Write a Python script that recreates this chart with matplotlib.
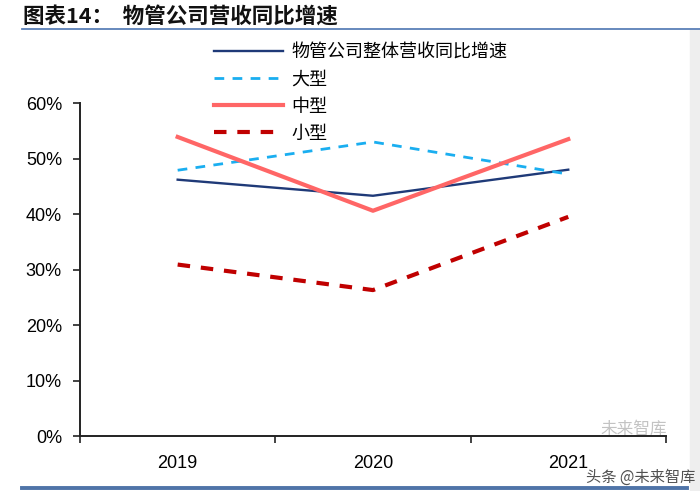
import matplotlib.pyplot as plt
from matplotlib.lines import Line2D
from matplotlib.ticker import FixedLocator, FuncFormatter

plt.rcParams['font.family'] = ['Liberation Sans', 'Noto Sans CJK SC', 'DejaVu Sans']

# data
years = ['2019', '2020', '2021']
overall = [46.2, 43.3, 48.0]
large = [47.9, 53.0, 47.2]
medium = [53.9, 40.6, 53.5]
small = [30.9, 26.3, 39.5]
labels = ['物管公司整体营收同比增速', '大型', '中型', '小型']

C_NAVY = '#1f3a78'
C_SKY = '#1aaef0'
C_SALMON = '#ff6666'
C_DRED = '#c00000'

fig = plt.figure(figsize=(7.0, 4.91), dpi=100)
ax = fig.add_axes([0.1143, 0.112, 0.837, 0.678])

x = range(len(years))
ax.plot(x, overall, color=C_NAVY, lw=1.7, label=labels[0])
ax.plot(x, large, color=C_SKY, lw=2.0, dashes=(3.5, 3.0), label=labels[1])
ax.plot(x, medium, color=C_SALMON, lw=3.0, label=labels[2])
ax.plot(x, small, color=C_DRED, lw=3.0, dashes=(3.0, 2.6), label=labels[3])

ax.set_xlim(-0.5, 2.5)
ax.set_ylim(0, 60)
ax.set_yticks(range(0, 61, 10))
ax.yaxis.set_major_formatter(FuncFormatter(lambda v, p: f'{v:.0f}%'))

# category boundaries carry the tick marks, labels sit in the middle
ax.xaxis.set_major_locator(FixedLocator([-0.5, 0.5, 1.5, 2.5]))
ax.xaxis.set_major_formatter(FuncFormatter(lambda v, p: ''))
ax.xaxis.set_minor_locator(FixedLocator(list(x)))
ax.set_xticklabels(years, minor=True)
ax.tick_params(axis='x', which='major', direction='out', length=5, width=1.2, color='#222222')
ax.tick_params(axis='x', which='minor', length=0, pad=14, labelsize=13)
ax.tick_params(axis='y', direction='out', length=5, width=1.2, color='#222222',
               labelsize=13, pad=8)

for s in ['top', 'right']:
    ax.spines[s].set_visible(False)
for s in ['left', 'bottom']:
    ax.spines[s].set_color('#222222')
    ax.spines[s].set_linewidth(1.4)

leg = fig.legend(loc='upper left', bbox_to_anchor=(0.296, 0.926), frameon=False,
                 prop={'family': 'Noto Sans CJK SC', 'size': 13},
                 handlelength=3.8, handletextpad=0.45, labelspacing=0.5,
                 borderaxespad=0)

# title and decorative rules
fig.text(0.033, 0.968, '图表14：  物管公司营收同比增速', fontsize=15.5, fontweight='bold',
         family=['Noto Sans CJK SC', 'DejaVu Sans'], va='center', ha='left', color='#111111')
fig.add_artist(Line2D([0.032, 1.0], [0.941, 0.941], color='#5b80b8', lw=1.3))
fig.add_artist(Line2D([0.032, 0.982], [0.007, 0.007], color='#4f74a8', lw=2.8))
fig.patches.append(plt.Rectangle((0.985, 0), 0.015, 0.94, transform=fig.transFigure,
                                 color='#eeeeee', zorder=0))

# watermark
fig.text(0.915, 0.027, '头条 @未来智库', fontsize=11, family=['Noto Sans CJK SC'],
         color='#333333', ha='center', va='center', alpha=0.85)
fig.text(0.905, 0.125, '未来智库', fontsize=12, family=['Noto Sans CJK SC'],
         color='#888888', ha='center', va='center', alpha=0.5)

fig.savefig('out.png', dpi=100)
